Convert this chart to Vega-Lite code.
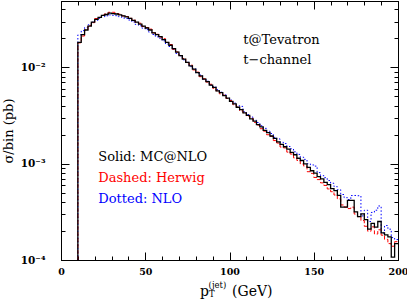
{
  "$schema": "https://vega.github.io/schema/vega-lite/v6.json",
  "width": 337,
  "height": 259,
  "autosize": "none",
  "padding": {"left": 61, "top": 1, "right": 9, "bottom": 40},
  "background": "white",
  "config": {"view": {"stroke": null}, "axis": {"grid": false, "domainColor": "black", "tickColor": "black", "labelColor": "black", "titleColor": "black"}},
  "datasets": {
    "hist": [
      {"x": 10, "MC": 0.0001, "HW": 0.0001, "NLO": 0.0001},
      {"x": 12, "MC": 0.0182, "HW": 0.0180, "NLO": 0.0218},
      {"x": 14, "MC": 0.0219, "HW": 0.0212, "NLO": 0.0241},
      {"x": 16, "MC": 0.0245, "HW": 0.0245, "NLO": 0.0260},
      {"x": 18, "MC": 0.0269, "HW": 0.0272, "NLO": 0.0277},
      {"x": 20, "MC": 0.0295, "HW": 0.0292, "NLO": 0.0295},
      {"x": 22, "MC": 0.0316, "HW": 0.0322, "NLO": 0.0310},
      {"x": 24, "MC": 0.0331, "HW": 0.0331, "NLO": 0.0324},
      {"x": 26, "MC": 0.0347, "HW": 0.0350, "NLO": 0.0337},
      {"x": 28, "MC": 0.0355, "HW": 0.0362, "NLO": 0.0344},
      {"x": 30, "MC": 0.0367, "HW": 0.0374, "NLO": 0.0352},
      {"x": 32, "MC": 0.0363, "HW": 0.0374, "NLO": 0.0348},
      {"x": 34, "MC": 0.0359, "HW": 0.0363, "NLO": 0.0345},
      {"x": 36, "MC": 0.0351, "HW": 0.0358, "NLO": 0.0337},
      {"x": 38, "MC": 0.0343, "HW": 0.0343, "NLO": 0.0326},
      {"x": 40, "MC": 0.0335, "HW": 0.0338, "NLO": 0.0322},
      {"x": 42, "MC": 0.0324, "HW": 0.0324, "NLO": 0.0311},
      {"x": 44, "MC": 0.0309, "HW": 0.0312, "NLO": 0.0297},
      {"x": 46, "MC": 0.0295, "HW": 0.0295, "NLO": 0.0280},
      {"x": 48, "MC": 0.0282, "HW": 0.0288, "NLO": 0.0271},
      {"x": 50, "MC": 0.0269, "HW": 0.0266, "NLO": 0.0256},
      {"x": 52, "MC": 0.0257, "HW": 0.0260, "NLO": 0.0247},
      {"x": 54, "MC": 0.0245, "HW": 0.0250, "NLO": 0.0233},
      {"x": 56, "MC": 0.0229, "HW": 0.0229, "NLO": 0.0220},
      {"x": 58, "MC": 0.0219, "HW": 0.0221, "NLO": 0.0208},
      {"x": 60, "MC": 0.0209, "HW": 0.0207, "NLO": 0.0201},
      {"x": 62, "MC": 0.0195, "HW": 0.0199, "NLO": 0.0189},
      {"x": 64, "MC": 0.0182, "HW": 0.0182, "NLO": 0.0175},
      {"x": 66, "MC": 0.0170, "HW": 0.0173, "NLO": 0.0165},
      {"x": 68, "MC": 0.0157, "HW": 0.0155, "NLO": 0.0154},
      {"x": 70, "MC": 0.0144, "HW": 0.0145, "NLO": 0.0140},
      {"x": 72, "MC": 0.0133, "HW": 0.0133, "NLO": 0.0132},
      {"x": 74, "MC": 0.0122, "HW": 0.0124, "NLO": 0.0120},
      {"x": 76, "MC": 0.0113, "HW": 0.0112, "NLO": 0.0113},
      {"x": 78, "MC": 0.0104, "HW": 0.0106, "NLO": 0.0102},
      {"x": 80, "MC": 0.00962, "HW": 0.00943, "NLO": 0.00972},
      {"x": 82, "MC": 0.00885, "HW": 0.00894, "NLO": 0.00876},
      {"x": 84, "MC": 0.00818, "HW": 0.00802, "NLO": 0.00834},
      {"x": 86, "MC": 0.00755, "HW": 0.00763, "NLO": 0.00755},
      {"x": 88, "MC": 0.00712, "HW": 0.00705, "NLO": 0.00719},
      {"x": 90, "MC": 0.00656, "HW": 0.00669, "NLO": 0.00656},
      {"x": 92, "MC": 0.00620, "HW": 0.00608, "NLO": 0.00632},
      {"x": 94, "MC": 0.00572, "HW": 0.00572, "NLO": 0.00589},
      {"x": 96, "MC": 0.00548, "HW": 0.00532, "NLO": 0.00553},
      {"x": 98, "MC": 0.00510, "HW": 0.00515, "NLO": 0.00520},
      {"x": 100, "MC": 0.00481, "HW": 0.00476, "NLO": 0.00481},
      {"x": 102, "MC": 0.00445, "HW": 0.00454, "NLO": 0.00458},
      {"x": 104, "MC": 0.00418, "HW": 0.00410, "NLO": 0.00426},
      {"x": 106, "MC": 0.00386, "HW": 0.00390, "NLO": 0.00401},
      {"x": 108, "MC": 0.00365, "HW": 0.00354, "NLO": 0.00394},
      {"x": 110, "MC": 0.00337, "HW": 0.00337, "NLO": 0.00347},
      {"x": 112, "MC": 0.00318, "HW": 0.00312, "NLO": 0.00324},
      {"x": 114, "MC": 0.00293, "HW": 0.00296, "NLO": 0.00305},
      {"x": 116, "MC": 0.00277, "HW": 0.00269, "NLO": 0.00283},
      {"x": 118, "MC": 0.00255, "HW": 0.00252, "NLO": 0.00268},
      {"x": 120, "MC": 0.00241, "HW": 0.00231, "NLO": 0.00248},
      {"x": 122, "MC": 0.00222, "HW": 0.00218, "NLO": 0.00233},
      {"x": 124, "MC": 0.00210, "HW": 0.00200, "NLO": 0.00218},
      {"x": 126, "MC": 0.00194, "HW": 0.00192, "NLO": 0.00206},
      {"x": 128, "MC": 0.00183, "HW": 0.00174, "NLO": 0.00188},
      {"x": 130, "MC": 0.00169, "HW": 0.00164, "NLO": 0.00181},
      {"x": 132, "MC": 0.00159, "HW": 0.00149, "NLO": 0.00167},
      {"x": 134, "MC": 0.00150, "HW": 0.00146, "NLO": 0.00162},
      {"x": 136, "MC": 0.00142, "HW": 0.00132, "NLO": 0.00151},
      {"x": 138, "MC": 0.00131, "HW": 0.00126, "NLO": 0.00143},
      {"x": 140, "MC": 0.00124, "HW": 0.00115, "NLO": 0.00133},
      {"x": 142, "MC": 0.00114, "HW": 0.00108, "NLO": 0.00125},
      {"x": 144, "MC": 0.00108, "HW": 0.000994, "NLO": 0.00117},
      {"x": 146, "MC": 0.000995, "HW": 0.000945, "NLO": 0.00111},
      {"x": 148, "MC": 0.000918, "HW": 0.000826, "NLO": 0.00100},
      {"x": 150, "MC": 0.000845, "HW": 0.000794, "NLO": 0.000972},
      {"x": 152, "MC": 0.000800, "HW": 0.000720, "NLO": 0.000944},
      {"x": 154, "MC": 0.000735, "HW": 0.000684, "NLO": 0.000809},
      {"x": 156, "MC": 0.000696, "HW": 0.000633, "NLO": 0.000752},
      {"x": 158, "MC": 0.000640, "HW": 0.000595, "NLO": 0.000717},
      {"x": 160, "MC": 0.000608, "HW": 0.000547, "NLO": 0.000669},
      {"x": 162, "MC": 0.000550, "HW": 0.000512, "NLO": 0.000627},
      {"x": 164, "MC": 0.000525, "HW": 0.000473, "NLO": 0.000578},
      {"x": 166, "MC": 0.000468, "HW": 0.000431, "NLO": 0.000538},
      {"x": 168, "MC": 0.000355, "HW": 0.000373, "NLO": 0.000479},
      {"x": 170, "MC": 0.000355, "HW": 0.000355, "NLO": 0.000444},
      {"x": 172, "MC": 0.000417, "HW": 0.000342, "NLO": 0.000425},
      {"x": 174, "MC": 0.000417, "HW": 0.000354, "NLO": 0.000467},
      {"x": 176, "MC": 0.000316, "HW": 0.000300, "NLO": 0.000468},
      {"x": 178, "MC": 0.000282, "HW": 0.000282, "NLO": 0.000465},
      {"x": 180, "MC": 0.000302, "HW": 0.000257, "NLO": 0.000287},
      {"x": 182, "MC": 0.000263, "HW": 0.000224, "NLO": 0.000329},
      {"x": 184, "MC": 0.000209, "HW": 0.000199, "NLO": 0.000251},
      {"x": 186, "MC": 0.000240, "HW": 0.000221, "NLO": 0.000312},
      {"x": 188, "MC": 0.000219, "HW": 0.000186, "NLO": 0.000329},
      {"x": 190, "MC": 0.000251, "HW": 0.000206, "NLO": 0.000364},
      {"x": 192, "MC": 0.000191, "HW": 0.000181, "NLO": 0.000191},
      {"x": 194, "MC": 0.000182, "HW": 0.000164, "NLO": 0.000228},
      {"x": 196, "MC": 0.000174, "HW": 0.000148, "NLO": 0.000209},
      {"x": 198, "MC": 0.000107, "HW": 0.000139, "NLO": 0.000171},
      {"x": 200, "MC": 0.000148, "HW": 0.000155, "NLO": 0.000163}
    ],
    "notes": [
      {"x": 22.1, "y": 0.00118, "t": "Solid: MC@NLO", "k": "MC"},
      {"x": 22.1, "y": 0.000716, "t": "Dashed: Herwig", "k": "HW"},
      {"x": 22.1, "y": 0.000434, "t": "Dotted: NLO", "k": "NLO"},
      {"x": 108.2, "y": 0.01936, "t": "t@Tevatron", "k": "MC"},
      {"x": 108.2, "y": 0.01202, "t": "t−channel", "k": "MC"}
    ],
    "xtitle": [
      {"x": 82.5, "y": 0.0000422, "t": "p", "role": "main"},
      {"x": 101.5, "y": 0.0000422, "t": "(GeV)", "role": "main"},
      {"x": 87.6, "y": 0.0000511, "t": "(jet)", "role": "small"},
      {"x": 87.8, "y": 0.000041, "t": "T", "role": "small"}
    ]
  },
  "resolve": {"axis": {"x": "independent", "y": "independent"}},
  "layer": [
    {
      "data": {"name": "hist"},
      "mark": {"type": "line", "interpolate": "step-before", "color": "#0000ff", "strokeWidth": 1, "strokeDash": [1.5, 2], "clip": true},
      "encoding": {
        "x": {"field": "x", "type": "quantitative", "scale": {"domain": [0, 200], "nice": false},
          "axis": {"orient": "bottom", "values": [0, 50, 100, 150, 200], "tickSize": -8, "labelPadding": 14, "title": null,
            "labelFont": "DejaVu Serif", "labelFontWeight": "bold", "labelFontSize": 9.5, "labelFlush": false}},
        "y": {"field": "NLO", "type": "quantitative", "scale": {"type": "log", "domain": [0.0001, 0.049], "nice": false},
          "axis": {"orient": "left", "values": [0.0001, 0.001, 0.01], "tickSize": -8, "labelPadding": 24,
            "labelExpr": "datum.value == 0.01 ? '10⁻²' : datum.value == 0.001 ? '10⁻³' : '10⁻⁴'",
            "labelFont": "DejaVu Serif", "labelFontWeight": "bold", "labelFontSize": 10.5,
            "title": "σ/bin (pb)", "titleFont": "DejaVu Serif", "titleFontSize": 13, "titleFontWeight": "normal", "titlePadding": 5}}
      }
    },
    {
      "data": {"name": "hist"},
      "mark": {"type": "line", "interpolate": "step-before", "color": "#ff0000", "strokeWidth": 1, "strokeDash": [4, 2], "clip": true},
      "encoding": {
        "x": {"field": "x", "type": "quantitative",
          "axis": {"orient": "bottom", "values": [10, 20, 30, 40, 60, 70, 80, 90, 110, 120, 130, 140, 160, 170, 180, 190], "tickSize": -4, "labels": false, "title": null}},
        "y": {"field": "HW", "type": "quantitative",
          "axis": {"orient": "left", "values": [0.0002, 0.0003, 0.0004, 0.0005, 0.0006, 0.0007, 0.0008, 0.0009, 0.002, 0.003, 0.004, 0.005, 0.006, 0.007, 0.008, 0.009, 0.02, 0.03, 0.04], "tickSize": -4, "labels": false, "title": null}}
      }
    },
    {
      "data": {"name": "hist"},
      "mark": {"type": "line", "interpolate": "step-before", "color": "black", "strokeWidth": 1.3, "clip": true},
      "encoding": {
        "x": {"field": "x", "type": "quantitative",
          "axis": {"orient": "top", "values": [0, 50, 100, 150, 200], "tickSize": -8, "labels": false, "title": null}},
        "y": {"field": "MC", "type": "quantitative",
          "axis": {"orient": "right", "values": [0.0001, 0.001, 0.01], "tickSize": -8, "labels": false, "title": null}}
      }
    },
    {
      "data": {"name": "notes"},
      "mark": {"type": "text", "align": "left", "baseline": "middle", "font": "DejaVu Serif", "fontSize": 13},
      "encoding": {
        "x": {"field": "x", "type": "quantitative",
          "axis": {"orient": "top", "values": [10, 20, 30, 40, 60, 70, 80, 90, 110, 120, 130, 140, 160, 170, 180, 190], "tickSize": -4, "labels": false, "title": null}},
        "y": {"field": "y", "type": "quantitative",
          "axis": {"orient": "right", "values": [0.0002, 0.0003, 0.0004, 0.0005, 0.0006, 0.0007, 0.0008, 0.0009, 0.002, 0.003, 0.004, 0.005, 0.006, 0.007, 0.008, 0.009, 0.02, 0.03, 0.04], "tickSize": -4, "labels": false, "title": null}},
        "text": {"field": "t"},
        "color": {"field": "k", "type": "nominal", "scale": {"domain": ["MC", "HW", "NLO"], "range": ["black", "#ff0000", "#0000ff"]}, "legend": null}
      }
    },
    {
      "data": {"name": "xtitle"},
      "transform": [{"filter": "datum.role == 'main'"}],
      "mark": {"type": "text", "align": "left", "baseline": "alphabetic", "font": "DejaVu Serif", "fontSize": 14, "color": "black", "clip": false},
      "encoding": {
        "x": {"field": "x", "type": "quantitative", "axis": null},
        "y": {"field": "y", "type": "quantitative", "axis": null},
        "text": {"field": "t"}
      }
    },
    {
      "data": {"name": "xtitle"},
      "transform": [{"filter": "datum.role == 'small'"}],
      "mark": {"type": "text", "align": "left", "baseline": "alphabetic", "font": "DejaVu Serif", "fontSize": 8.5, "color": "black", "clip": false},
      "encoding": {
        "x": {"field": "x", "type": "quantitative", "axis": null},
        "y": {"field": "y", "type": "quantitative", "axis": null},
        "text": {"field": "t"}
      }
    }
  ]
}
